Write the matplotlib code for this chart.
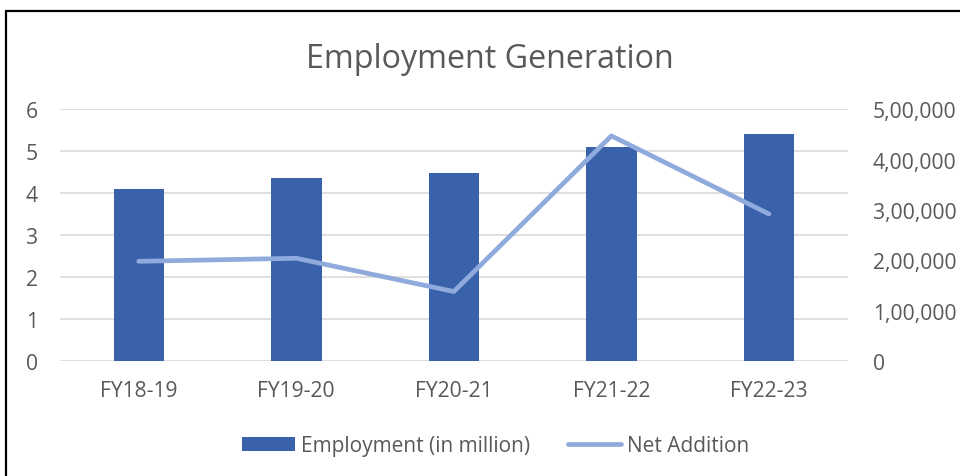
import numpy as np
import matplotlib.pyplot as plt
from matplotlib.patches import Rectangle
from matplotlib.ticker import FuncFormatter

years = ["FY18-19", "FY19-20", "FY20-21", "FY21-22", "FY22-23"]
employment = [4.11, 4.36, 4.47, 5.11, 5.40]          # in million
net_addition = [198000, 204000, 138000, 447000, 292000]

plt.rcParams['font.family'] = ['Open Sans', 'DejaVu Sans']
grey = '#595959'
bar_col = '#3A62AA'
line_col = '#8FAADC'


def indian_fmt(v, pos):
    v = int(round(v))
    if v == 0:
        return "0"
    s = str(v)
    last3 = s[-3:]
    rest = s[:-3]
    parts = []
    while len(rest) > 2:
        parts.insert(0, rest[-2:])
        rest = rest[:-2]
    if rest:
        parts.insert(0, rest)
    return ",".join(parts + [last3])


fig = plt.figure(figsize=(9.6, 4.77), dpi=100)
ax = fig.add_axes([0.0625, 0.241, 0.8205, 0.528])
x = np.arange(len(years))

ax.bar(x, employment, width=0.32, color=bar_col, label="Employment (in million)", zorder=2)
ax.set_xlim(-0.5, len(years) - 0.5)
ax.set_ylim(0, 6)
ax.set_yticks(range(0, 7))
ax.grid(axis='y', color='#D9D9D9', linewidth=1.2, zorder=0)
ax.set_axisbelow(True)
ax.set_xticks(x)
ax.set_xticklabels(years)

ax2 = ax.twinx()
ax2.plot(x, net_addition, color=line_col, linewidth=3.4, solid_capstyle='round',
         label="Net Addition", zorder=3)
ax2.set_ylim(0, 500000)
ax2.set_yticks(range(0, 500001, 100000))
ax2.yaxis.set_major_formatter(FuncFormatter(indian_fmt))

for a in (ax, ax2):
    for s in a.spines.values():
        s.set_visible(False)
    a.tick_params(length=0, colors=grey, labelsize=15.2)
ax.tick_params(axis='y', pad=16)
ax.tick_params(axis='x', pad=14)
ax2.tick_params(axis='y', pad=18)

fig.text(0.51, 0.876, "Employment Generation", ha='center', va='center',
         fontsize=23.2, color=grey)

h1, l1 = ax.get_legend_handles_labels()
h2, l2 = ax2.get_legend_handles_labels()
fig.legend(h1 + h2, l1 + l2, loc='center', bbox_to_anchor=(0.516, 0.063), ncol=2,
           frameon=False, fontsize=15, labelcolor=grey, handlelength=2.55,
           handletextpad=0.3, columnspacing=1.8)

# outer frame
fig.patches.append(Rectangle((5.5 / 960, -0.1), 1.1, 1.1 - 11.5 / 477,
                             transform=fig.transFigure, fill=False,
                             edgecolor='black', linewidth=1.6))

fig.savefig("out.png", dpi=100)
